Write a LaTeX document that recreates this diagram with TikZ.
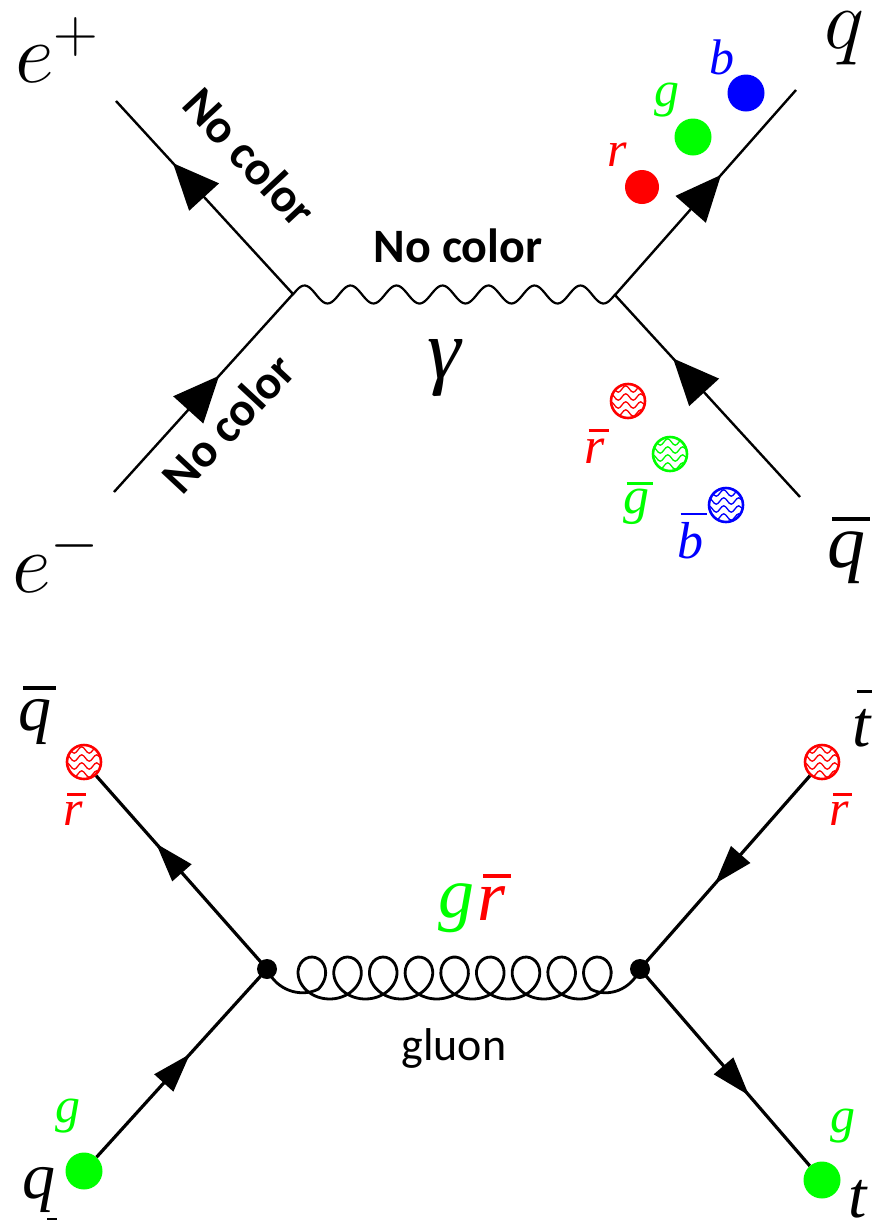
\RequirePackage{fix-cm}
\documentclass[tikz,border=0pt]{standalone}
\usepackage{fontspec}
\setmainfont{Carlito}
\newfontfamily\lsi{Liberation Serif}[ItalicFont={Liberation Serif Italic}]
\usetikzlibrary{arrows.meta,decorations.markings,decorations.pathmorphing}
\definecolor{qr}{RGB}{255,0,0}
\definecolor{qg}{RGB}{0,255,0}
\definecolor{qb}{RGB}{0,0,255}
\DeclareMathSizes{85}{85}{62}{45}
\newcommand{\cmsym}[2]{\fontsize{#1}{#1}\selectfont$#2$}
\newcommand{\cam}[2]{\fontsize{#1}{#1}\selectfont{\lsi\itshape #2}}
\newcommand{\cambar}[3]{\fontsize{#1}{#1}\selectfont\lsi\itshape\setbox0\hbox{#2}\leavevmode
  \rlap{\kern.07em\smash{\raisebox{#3em}{\rule{\wd0}{.05em}}}}\box0 }
\tikzset{
  x=1pt,y=-1pt,
  fermiontop/.style={line width=2.4pt},
  fermionbot/.style={line width=3.2pt},
  headtop/.style={postaction={decorate,decoration={markings,mark=at position #1 with {\arrow{Triangle[length=46pt,width=40pt]}}}}},
  headbot/.style={postaction={decorate,decoration={markings,mark=at position #1 with {\arrow{Triangle[length=39pt,width=25pt]}}}}},
  photon/.style={line width=2.2pt,line join=round},
  lab/.style={inner sep=0pt,outer sep=0pt},
  nocolor/.style={lab,font=\fontsize{48}{48}\selectfont\bfseries},
  quark/.style={circle,fill=#1,draw=none,inner sep=0pt,minimum size=37pt},
  antiquark/.style={circle,draw=#1,fill=white,line width=2.6pt,inner sep=0pt,minimum size=34pt,
    path picture={
      \foreach \dy in {-12,-4,4,12}{
        \draw[#1,line width=1.3pt,decorate,decoration={snake,amplitude=3.2pt,segment length=15pt}]
          ([shift={(-22pt,\dy pt)}]path picture bounding box.center) -- ([shift={(22pt,\dy pt)}]path picture bounding box.center);
      }}},
  vertex/.style={circle,fill=black,inner sep=0pt,minimum size=20pt},
}
\begin{document}
\begin{tikzpicture}
\useasboundingbox (0,0) rectangle (872,1221);
% top diagram
\coordinate (vl) at (293,294);
\coordinate (vr) at (615,295);
\coordinate (ep) at (116,101);
\coordinate (em) at (114,492);
\coordinate (qt) at (796,90);
\coordinate (qb) at (800,497);
\draw[fermiontop,headtop=0.678] (vl) -- (ep);
\draw[fermiontop,headtop=0.587] (em) -- (vl);
\draw[fermiontop,headtop=0.586] (vr) -- (qt);
\draw[fermiontop,headtop=0.686] (qb) -- (vr);
\draw[photon] (vl) -- plot[smooth,samples=160,domain=0:322,variable=\t] ({293+\t},{294.5-9*sin(\t/46*360)}) -- (vr);
\node[lab] (lep) at (57,50) {\cmsym{85}{e^+}};
\node[lab] (lem) at (56,559) {\cmsym{85}{e^-}};
\node[lab] (lq) at (844,38) {\cmsym{85}{q}};
\node[lab] (lqb) at (846,558) {\cambar{76}{q}{.62}};
\node[lab] (lgam) at (444,368) {\cam{85}{γ}};
\node[nocolor,rotate=-47] (n1) at (250,157) {No color};
\node[nocolor,rotate=47] (n2) at (228,423) {No color};
\node[nocolor] (n3) at (458,246) {No color};
\node[quark=qr,minimum size=34pt] (cr) at (642,187) {};
\node[quark=qg] (cg) at (693,137) {};
\node[quark=qb] (cb) at (746,93) {};
\node[lab,text=qr] (lr) at (617,155) {\cam{50}{r}};
\node[lab,text=qg] (lg) at (667,100) {\cam{50}{g}};
\node[lab,text=qb] (lb) at (722,57) {\cam{50}{b}};
\node[antiquark=qr] (ar) at (628,401) {};
\node[antiquark=qg] (ag) at (670,454) {};
\node[antiquark=qb] (ab) at (726,505) {};
\node[lab,text=qr] (lar) at (595,451) {\cambar{52}{r}{.6}};
\node[lab,text=qg] (lag) at (636,507) {\cambar{52}{g}{.56}};
\node[lab,text=qb] (lab) at (690,541) {\cambar{52}{b}{.84}};
% bottom diagram
\node[vertex] (wl) at (267,969) {};
\node[vertex] (wr) at (640,969) {};
\node[antiquark=qr] (b1) at (84,762) {};
\node[antiquark=qr] (b2) at (822,762) {};
\node[quark=qg] (b3) at (84,1171) {};
\node[quark=qg] (b4) at (822,1180) {};
\draw[fermionbot,headbot=0.649] (wl.center) -- (b1);
\draw[fermionbot,headbot=0.548] (b3) -- (wl.center);
\draw[fermionbot,headbot=0.559] (b2) -- (wr.center);
\draw[fermionbot,headbot=0.642] (wr.center) -- (b4);
\coordinate (gs) at (318,989.3);
\coordinate (ge) at (591,989.3);
\draw[line width=2.8pt,line join=round]
  (wl.center) .. controls (276,990) and (300,998) .. (gs)
  -- plot[smooth,samples=260,domain=1:55.55,variable=\t] ({294+5.68*\t+22*sin(\t r)},{978+21*cos(\t r)})
  -- (ge) .. controls (608,998) and (631,990) .. (wr.center);
\node[lab] (q1) at (35,722) {\cambar{66}{q}{.62}};
\node[lab] (q2) at (862,728) {\cambar{66}{t}{.8}};
\node[lab] (q3) at (39,1190) {\cam{66}{q}};
\node[lab] (q4) at (858,1199) {\cam{66}{t}};
\coordinate (da) at (47,1219);
\coordinate (db) at (57,1219);
\draw[line width=1.4pt] (da) -- (db);
\node[lab,text=qr] (r1) at (73,814) {\cambar{50}{r}{.6}};
\node[lab,text=qr] (r2) at (839,814) {\cambar{50}{r}{.6}};
\node[lab,text=qg] (g1) at (68,1116) {\cam{50}{g}};
\node[lab,text=qg] (g2) at (843,1126) {\cam{50}{g}};
\node[lab,text=qg] (cg1) at (456,908) {\cam{72}{g}};
\node[lab,text=qr] (cr1) at (492,904) {\cambar{72}{r}{.6}};
\node[lab,font=\fontsize{46}{46}\selectfont] (gl) at (454,1048) {gluon};
\end{tikzpicture}
\end{document}
